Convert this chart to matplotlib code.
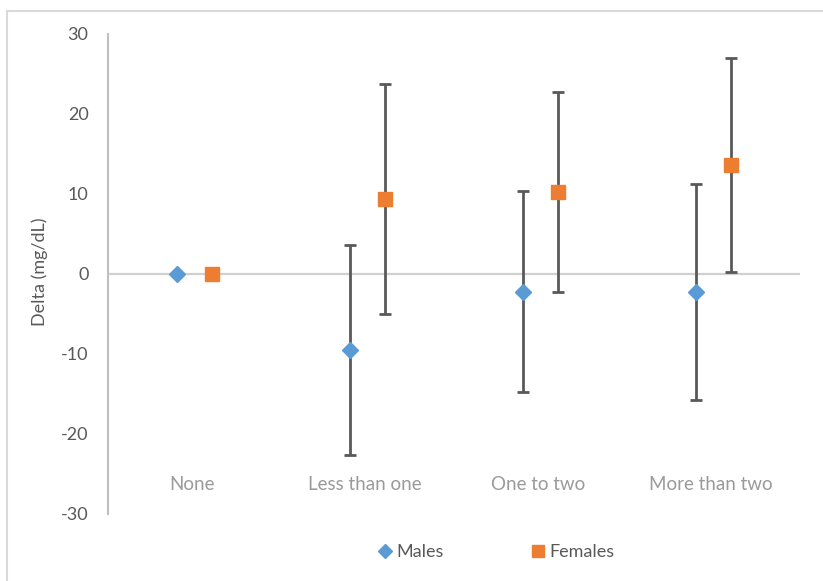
import matplotlib.pyplot as plt
from matplotlib.lines import Line2D

# Change in level by category, with symmetric error bars
categories = ["None", "Less than one", "One to two", "More than two"]
males = [0.0, -9.5, -2.2, -2.3]
males_err = [0.0, 13.1, 12.6, 13.5]
females = [0.0, 9.4, 10.2, 13.6]
females_err = [0.0, 14.4, 12.5, 13.4]
yticks = [-30, -20, -10, 0, 10, 20, 30]

blue = "#5B9BD5"
orange = "#ED7D31"
bar_col = "#595959"
text_col = "#595959"

plt.rcParams['font.family'] = ['Lato', 'DejaVu Sans']

fig = plt.figure(figsize=(8.23, 5.81), dpi=100)
ax = fig.add_axes([108 / 823, 1 - 514 / 581, 692 / 823, 480 / 581])

x = range(len(categories))
off = 0.1
ax.axhline(0, color="#d0d0d0", lw=1.6, zorder=1)

ax.errorbar([i - off for i in x], males, yerr=males_err, fmt="D", color=blue,
            ms=8, mec=blue, ecolor=bar_col, elinewidth=2, capsize=4, capthick=2,
            zorder=3, label="Males")
ax.errorbar([i + off for i in x], females, yerr=females_err, fmt="s", color=orange,
            ms=10.5, mec=orange, ecolor=bar_col, elinewidth=2, capsize=4, capthick=2,
            zorder=3, label="Females")

ax.set_xlim(-0.5, len(categories) - 0.5)
ax.set_ylim(-30, 30)
ax.set_yticks(yticks)
ax.set_yticklabels([str(t) for t in yticks], fontsize=13, color=text_col)
ax.tick_params(axis="y", length=0, pad=14)
ax.set_xticks([])
for s in ["top", "right", "bottom"]:
    ax.spines[s].set_visible(False)
ax.spines["left"].set_color("#bfbfbf")
ax.spines["left"].set_linewidth(1.5)

# category names sit inside the plot near the bottom
for i, c in enumerate(categories):
    ax.text(i - 0.015, -26.3, c, ha="center", va="center", fontsize=13.5,
            color="#9a9a9a")

fig.text(40 / 823, 1 - 272 / 581, "Delta (mg/dL)", rotation=90, ha="center",
         va="center", fontsize=13, color=text_col)

handles = [Line2D([], [], marker="D", color=blue, ls="none", ms=7),
           Line2D([], [], marker="s", color=orange, ls="none", ms=8)]
fig.legend(handles, ["Males", "Females"], loc="center", ncol=2,
           bbox_to_anchor=(495 / 823, 1 - 552 / 581), frameon=False,
           fontsize=13, labelcolor=text_col, handletextpad=0.15,
           columnspacing=4.7, handlelength=1.0)

# chart border (left and top edges)
fig.add_artist(Line2D([7.5 / 823, 7.5 / 823], [0, 1 - 10.5 / 581],
                      transform=fig.transFigure, color="#d9d9d9", lw=1.5))
fig.add_artist(Line2D([7.5 / 823, 1], [1 - 10.5 / 581, 1 - 10.5 / 581],
                      transform=fig.transFigure, color="#d9d9d9", lw=1.5))

fig.savefig("out.png", dpi=100)
